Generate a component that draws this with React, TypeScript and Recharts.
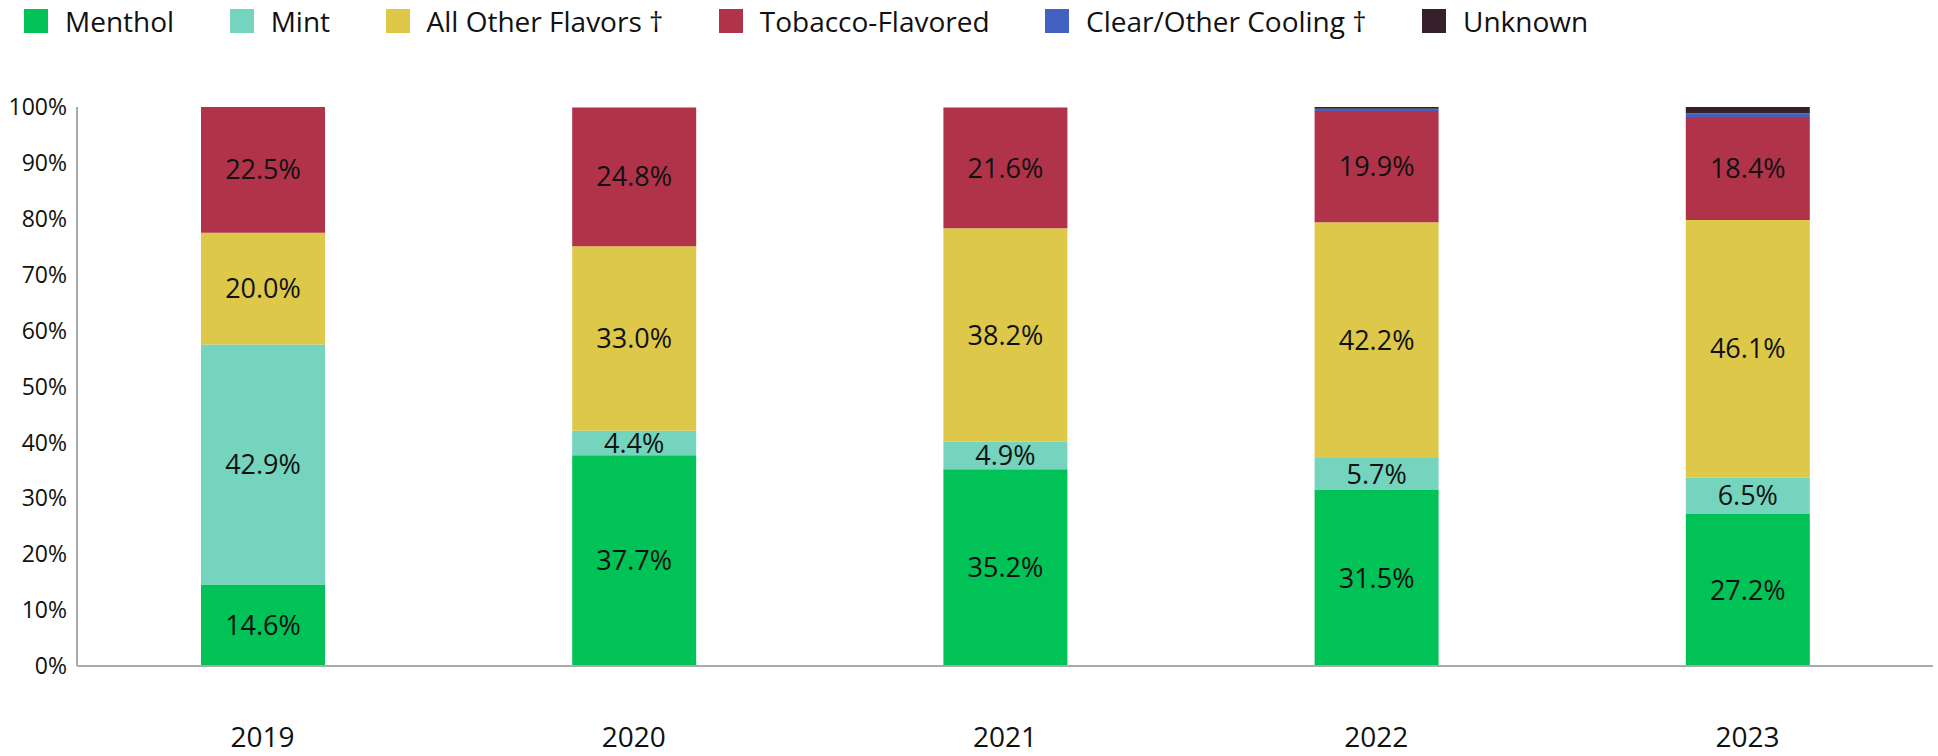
import { BarChart, Bar, XAxis, YAxis, LabelList } from "recharts";

const years = ["2019", "2020", "2021", "2022", "2023"];
const menthol = [14.6, 37.7, 35.2, 31.5, 27.2];
const mint = [42.9, 4.4, 4.9, 5.7, 6.5];
const otherFlavors = [20.0, 33.0, 38.2, 42.2, 46.1];
const tobacco = [22.5, 24.8, 21.6, 19.9, 18.4];
const clearCooling = [0, 0, 0, 0.4, 0.7];
const unknown = [0, 0, 0, 0.3, 1.1];
const yTicks = [0, 10, 20, 30, 40, 50, 60, 70, 80, 90, 100];

const series = [
  { key: "menthol", name: "Menthol", color: "#00C257", label: true },
  { key: "mint", name: "Mint", color: "#74D4BD", label: true },
  { key: "other", name: "All Other Flavors †", color: "#DDC84A", label: true },
  { key: "tobacco", name: "Tobacco-Flavored", color: "#B0334A", label: true },
  { key: "clear", name: "Clear/Other Cooling †", color: "#4361C2", label: false },
  { key: "unknown", name: "Unknown", color: "#36202A", label: false },
];

const data = years.map((year, i) => ({
  year,
  menthol: menthol[i],
  mint: mint[i],
  other: otherFlavors[i],
  tobacco: tobacco[i],
  clear: clearCooling[i],
  unknown: unknown[i],
}));

const FONT = "'Open Sans', 'Noto Sans', sans-serif";

function Legend() {
  return (
    <div
      style={{
        position: "absolute",
        left: 24,
        top: 9,
        display: "flex",
        alignItems: "center",
        fontFamily: FONT,
        fontSize: 28,
        color: "#111",
        whiteSpace: "nowrap",
      }}
    >
      {series.map((s) => (
        <div key={s.key} style={{ display: "flex", alignItems: "center", marginRight: 55.5 }}>
          <span style={{ width: 24, height: 24, background: s.color, display: "inline-block", marginRight: 17 }} />
          <span style={{ lineHeight: "24px" }}>{s.name}</span>
        </div>
      ))}
    </div>
  );
}

export default function App() {
  return (
    <div style={{ position: "absolute", left: 0, top: 0, width: 1938, height: 756, background: "#fff", fontFamily: FONT }}>
      <BarChart
        width={1938}
        height={756}
        data={data}
        margin={{ top: 107, right: 5, bottom: 0, left: 0 }}
        barSize={124}
      >
        <XAxis
          dataKey="year"
          height={90}
          axisLine={{ stroke: "#aaaaaa", strokeWidth: 2 }}
          tickLine={false}
          tickMargin={55}
          tick={{ fontSize: 28, fill: "#111", fontFamily: FONT }}
        />
        <YAxis
          width={77}
          domain={[0, 100]}
          ticks={yTicks}
          interval={0}
          tickFormatter={(v: number) => `${v}%`}
          axisLine={{ stroke: "#aaaaaa", strokeWidth: 2 }}
          tickLine={false}
          tickMargin={4}
          tick={{ fontSize: 23, fill: "#111", fontFamily: FONT }}
        />
        {series.map((s) => (
          <Bar key={s.key} dataKey={s.key} name={s.name} stackId="a" fill={s.color} isAnimationActive={false}>
            {s.label && (
              <LabelList
                dataKey={s.key}
                position="center"
                formatter={(v: number) => `${Number(v).toFixed(1)}%`}
                style={{ fontSize: 27, fill: "#111", fontFamily: FONT }}
              />
            )}
          </Bar>
        ))}
      </BarChart>
      <Legend />
    </div>
  );
}
